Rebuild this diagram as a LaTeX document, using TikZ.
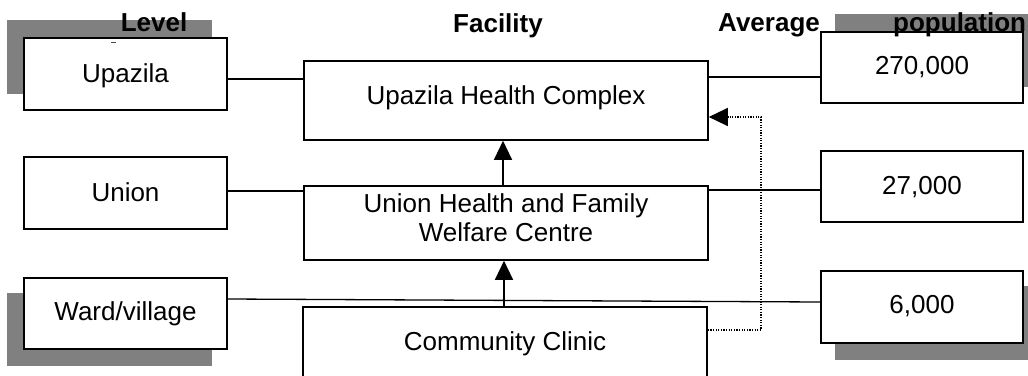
\documentclass[tikz,border=0pt]{standalone}
\usepackage{fontspec}
\setmainfont{Liberation Sans}
\usetikzlibrary{arrows.meta,backgrounds}
\begin{document}
\begin{tikzpicture}[x=1pt,y=-1pt,
  box/.style={draw=black,fill=white,line width=1.6pt,inner sep=0pt,
    minimum width=203pt,font=\fontsize{26}{29}\selectfont,text height=19pt},
  bigbox/.style={box,minimum width=404pt},
  conn/.style={line width=1.3pt},
  tip/.style={-{Triangle[length=19pt,width=18pt]}},
  shade/.style={fill=black!50},
  head/.style={font=\fontsize{26}{29}\selectfont\bfseries,inner sep=0pt}]
\clip (0,0) rectangle (1028,375);
\useasboundingbox (0,0) rectangle (1028,375);
% level boxes
\node[box,minimum height=72pt,text depth=1.6pt] (up) at (125.5,74) {Upazila};
\node[box,minimum height=72pt,text depth=3pt] (un) at (125.5,193) {Union};
\node[box,minimum height=71pt,text depth=6pt] (wd) at (125.5,313.5) {Ward/village};
% population boxes
\node[box,minimum width=202pt,minimum height=71pt,text depth=6pt] (p1) at (922,67.5) {270,000};
\node[box,minimum width=202pt,minimum height=71pt,text depth=4pt] (p2) at (922,186.5) {27,000};
\node[box,minimum width=202pt,minimum height=72pt,text depth=7pt] (p3) at (922,307) {6,000};
% facility boxes
\node[bigbox,minimum height=79pt,text depth=12pt] (uhc) at (506,100.5) {Upazila Health Complex};
\node[bigbox,minimum height=74pt,text height=40pt,text depth=4pt] (uh) at (506,223)
  {\begin{tabular}[b]{@{}c@{}}Union Health and Family\\Welfare Centre\end{tabular}};
\node[bigbox,minimum height=93pt,text depth=26pt] (cc) at (505,353.5) {Community Clinic};
% headers
\node[head,anchor=base] (lv) at (154,31) {Level};
\node[head,anchor=base] (fa) at (498,32) {Facility};
\node[head,anchor=base west] (av) at (718,31) {Average};
\node[head,anchor=base west] (po) at (893,31) {population};
% connectors
\draw[conn] (up.east |- 0,79) -- (uhc.west |- 0,79);
\draw[conn] (uhc.east |- 0,77) -- (p1.west |- 0,77);
\draw[conn] (un.east |- 0,191) -- (uh.west |- 0,191);
\draw[conn] (uh.east |- 0,190) -- (p2.west |- 0,190);
\draw[conn] (wd.east |- 0,299) -- (p3.west |- 0,302);
\draw[conn,tip] (uh.north -| 503,0) -- (uhc.south -| 503,0);
\draw[conn,tip] (cc.north -| 504,0) -- (uh.south -| 504,0);
\coordinate (dt) at (761,117);
\draw[line width=1.2pt,dash pattern=on 1.2pt off 1.4pt,tip] (cc.east |- 0,330) -| (dt) -- (uhc.east |- dt);
% small mark
\draw[line width=1pt,black!70] (111,42) -- (116,42);
% shadows
\begin{scope}[on background layer]
\fill[white] (0,0) rectangle (1028,375);
\fill[shade] ([shift={(-16,-17)}]up.south west) rectangle ([shift={(-16,-17)}]up.north east);
\fill[shade] ([shift={(-16,16)}]wd.south west) rectangle ([shift={(-16,16)}]wd.north east);
\fill[shade] ([shift={(15,-17)}]p1.south west) rectangle ([shift={(15,-17)}]p1.north east);
\fill[shade] ([shift={(15,16)}]p3.south west) rectangle ([shift={(15,16)}]p3.north east);
\end{scope}
\end{tikzpicture}
\end{document}
